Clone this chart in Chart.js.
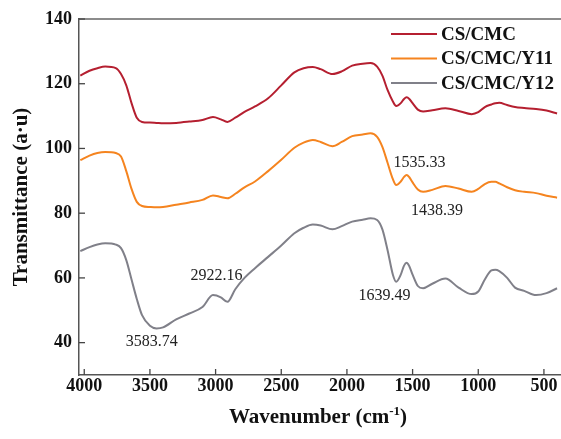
<!DOCTYPE html>
<html>
<head>
<meta charset="utf-8">
<script src="https://cdn.jsdelivr.net/npm/chart.js@4/dist/chart.umd.min.js"></script>
<style>
  html, body { margin: 0; padding: 0; background: #fff; }
  #wrap { width: 561px; height: 439px; }
</style>
</head>
<body>
<div id="wrap"><canvas id="ftir" width="561" height="439"></canvas></div>
<script>
const wavenumbers = [4030, 3960, 3900, 3840, 3760, 3720, 3680, 3640, 3600, 3560, 3500, 3450, 3400, 3300, 3200, 3100, 3020, 2960, 2910, 2850, 2780, 2700, 2600, 2500, 2400, 2330, 2260, 2200, 2110, 2040, 1960, 1880, 1820, 1770, 1730, 1690, 1650, 1625, 1590, 1565, 1545, 1525, 1500, 1460, 1420, 1350, 1250, 1150, 1050, 1000, 950, 900, 870, 840, 780, 720, 650, 560, 480, 400];

const csCmc = [122.5, 124, 124.8, 125.3, 124.8, 123, 119.5, 114, 109.5, 108.2, 108, 107.9, 107.8, 107.9, 108.3, 108.8, 109.7, 109, 108.2, 109.5, 111.3, 113, 115.5, 119.5, 123.5, 124.8, 125.2, 124.5, 123, 123.8, 125.6, 126.2, 126.4, 125.3, 122.5, 118, 114.5, 113.1, 114, 115.3, 115.8, 115.3, 114, 112, 111.4, 111.8, 112.4, 111.6, 110.6, 111.2, 112.8, 113.6, 114, 114.1, 113.4, 112.8, 112.5, 112.2, 111.7, 110.8];

const csCmcY11 = [96.4, 97.8, 98.6, 98.9, 98.6, 97.5, 93, 87.5, 83.5, 82.2, 81.9, 81.8, 81.9, 82.6, 83.3, 84.1, 85.5, 85, 84.6, 86, 88, 89.8, 93, 96.5, 100.2, 101.8, 102.6, 102, 100.7, 102, 103.8, 104.3, 104.7, 103.6, 100.5, 95.5, 90.5, 88.7, 89.8, 91.2, 91.8, 91.1, 89.5, 87.3, 86.6, 87.2, 88.4, 87.6, 86.6, 87.5, 89, 89.7, 89.7, 89.2, 88, 87.1, 86.6, 86.2, 85.4, 84.8];

const csCmcY12 = [68.3, 69.5, 70.3, 70.7, 70.3, 69.2, 65.5, 59.5, 53.5, 48.5, 45.2, 44.4, 44.7, 47.2, 49, 51, 54.7, 54, 52.6, 56.5, 60, 63, 66.5, 70, 73.8, 75.5, 76.5, 76.2, 75, 76, 77.4, 78, 78.4, 77.9, 75, 68.5, 61, 58.8, 61, 63.8, 64.7, 63.6, 61, 57.5, 56.8, 58.2, 59.8, 57, 55, 55.8, 59.5, 62.3, 62.5, 62.1, 60, 57, 56, 54.7, 55.3, 56.8];

const seriesNames = ['CS/CMC', 'CS/CMC/Y11', 'CS/CMC/Y12'];
const xTicks = [4000, 3500, 3000, 2500, 2000, 1500, 1000, 500];
const yTicks = [40, 60, 80, 100, 120, 140];

// peak labels: text, wavenumber, transmittance where the label sits
const peakLabels = ['3583.74', '2922.16', '1639.49', '1535.33', '1438.39'];
const peakX = [3487, 2993, 1713, 1447, 1314];
const peakY = [40.2, 60.6, 54.4, 95.5, 80.6];

const colors = ['#b51f30', '#f5841f', '#808089'];
const serif = '"Liberation Serif", "Times New Roman", serif';

const toPoints = vals => wavenumbers.map((w, i) => ({ x: w, y: vals[i] }));

const extras = {
    id: 'extras',
    afterDraw(chart) {
        const { ctx, chartArea: a, scales } = chart;
        const xs = scales.x, ys = scales.y;
        ctx.save();

        // top frame line
        ctx.strokeStyle = '#666';
        ctx.lineWidth = 1.5;
        ctx.beginPath();
        ctx.moveTo(a.left, a.top);
        ctx.lineTo(a.right, a.top);
        ctx.stroke();

        // inward tick marks
        ctx.strokeStyle = '#444';
        ctx.lineWidth = 1.3;
        xs.ticks.forEach(t => {
            const px = xs.getPixelForValue(t.value);
            ctx.beginPath();
            ctx.moveTo(px, a.bottom);
            ctx.lineTo(px, a.bottom - 6);
            ctx.stroke();
        });
        ys.ticks.forEach(t => {
            const py = ys.getPixelForValue(t.value);
            ctx.beginPath();
            ctx.moveTo(a.left, py);
            ctx.lineTo(a.left + 6, py);
            ctx.stroke();
        });

        // peak annotations
        ctx.fillStyle = '#222';
        ctx.font = '16px ' + serif;
        ctx.textAlign = 'center';
        ctx.textBaseline = 'middle';
        peakLabels.forEach((txt, i) => {
            ctx.fillText(txt, xs.getPixelForValue(peakX[i]), ys.getPixelForValue(peakY[i]));
        });

        // legend
        ctx.font = 'bold 19px ' + serif;
        ctx.textAlign = 'left';
        chart.data.datasets.forEach((ds, i) => {
            const y = 34 + i * 24.5;
            ctx.strokeStyle = ds.borderColor;
            ctx.lineWidth = 2;
            ctx.beginPath();
            ctx.moveTo(391, y);
            ctx.lineTo(437, y);
            ctx.stroke();
            ctx.fillStyle = '#111';
            ctx.fillText(ds.label, 441, y + 1);
        });

        // axis titles
        ctx.fillStyle = '#111';
        ctx.font = 'bold 21px ' + serif;
        ctx.save();
        ctx.translate(22, (a.top + a.bottom) / 2);
        ctx.rotate(-Math.PI / 2);
        ctx.textAlign = 'center';
        ctx.fillText('Transmittance (a\u00b7u)', 0, 0);
        ctx.restore();

        const p1 = 'Wavenumber (cm', sup = '-1', p2 = ')';
        ctx.font = 'bold 21px ' + serif;
        const w1 = ctx.measureText(p1).width, w3 = ctx.measureText(p2).width;
        ctx.font = 'bold 13px ' + serif;
        const w2 = ctx.measureText(sup).width;
        let x0 = (a.left + a.right) / 2 - 2 - (w1 + w2 + w3) / 2;
        const yb = 423;
        ctx.textAlign = 'left';
        ctx.textBaseline = 'alphabetic';
        ctx.font = 'bold 21px ' + serif;
        ctx.fillText(p1, x0, yb);
        ctx.font = 'bold 13px ' + serif;
        ctx.fillText(sup, x0 + w1, yb - 8);
        ctx.font = 'bold 21px ' + serif;
        ctx.fillText(p2, x0 + w1 + w2, yb);

        ctx.restore();
    }
};

new Chart(document.getElementById('ftir').getContext('2d'), {
    type: 'line',
    data: {
        datasets: [csCmc, csCmcY11, csCmcY12].map((vals, i) => ({
            label: seriesNames[i],
            data: toPoints(vals),
            borderColor: colors[i],
            backgroundColor: colors[i],
            borderWidth: 2,
            pointRadius: 0,
            cubicInterpolationMode: 'monotone',
            fill: false
        }))
    },
    options: {
        responsive: false,
        animation: false,
        layout: { padding: { left: 0, top: 19, right: 0, bottom: 0 } },
        plugins: {
            legend: { display: false },
            tooltip: { enabled: false }
        },
        scales: {
            x: {
                type: 'linear',
                reverse: true,
                min: 370,
                max: 4040,
                afterBuildTicks: s => { s.ticks = xTicks.map(v => ({ value: v })); },
                afterFit: s => { s.height = 64; },
                grid: { display: true, drawOnChartArea: false, drawTicks: false },
                border: { display: true, color: '#555', width: 1.5 },
                ticks: {
                    padding: 1,
                    color: '#111',
                    callback: v => String(v),
                    font: { family: serif, size: 18, weight: 'bold' }
                }
            },
            y: {
                min: 30,
                max: 140,
                afterBuildTicks: s => { s.ticks = yTicks.map(v => ({ value: v })); },
                afterFit: s => { s.width = 79; },
                grid: { display: true, drawOnChartArea: false, drawTicks: false },
                border: { display: true, color: '#555', width: 1.5 },
                ticks: {
                    padding: 7,
                    color: '#111',
                    callback: v => String(v),
                    font: { family: serif, size: 18, weight: 'bold' }
                }
            }
        }
    },
    plugins: [extras]
});
</script>
</body>
</html>
